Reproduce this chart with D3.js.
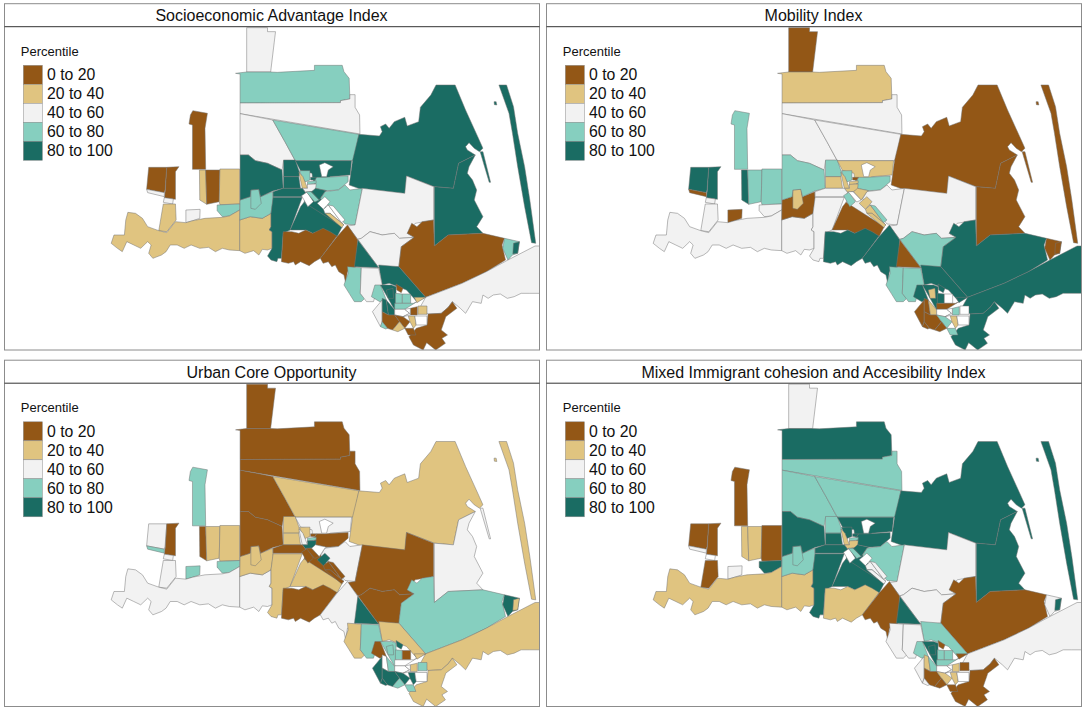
<!DOCTYPE html>
<html>
<head>
<meta charset="utf-8">
<script src="https://cdn.jsdelivr.net/npm/d3@7"></script>
<style>
  body { margin: 0; background: #fff; }
  text { font-family: "Liberation Sans", Arial, sans-serif; fill: #111; }
</style>
</head>
<body>
<svg id="chart" width="1084" height="711"></svg>
<script>
// Legend classes
const classLabels = ["0 to 20", "20 to 40", "40 to 60", "60 to 80", "80 to 100"];
const classColors = ["#935716", "#e0c480", "#f2f2f2", "#86cfbf", "#1a6c63"];

const panelTitles = [
    "Socioeconomic Advantage Index",
    "Mobility Index",
    "Urban Core Opportunity",
    "Mixed Immigrant cohesion and Accesibility Index"
];

// Tract outlines, [easting, southing] in map units.
const tractOutlines = [
    [[710,83],[770,83],[770,95],[793,95],[779,216],[710,216]],
    [[678,220],[710,216],[779,216],[798,217],[905,211],[905,196],[985,196],[990,215],[1005,235],[1007,297],[980,302],[980,308],[691,309],[691,222]],
    [[691,309],[980,308],[980,302],[1007,297],[1007,284],[1022,284],[1022,322],[1035,345],[1036,402],[691,341]],
    [[691,341],[785,360],[820,425],[850,483],[816,483],[812,510],[770,490],[735,482],[715,465],[691,465]],
    [[785,360],[1033,403],[1020,480],[1012,482],[850,482],[820,425]],
    [[1033,403],[1092,408],[1100,395],[1095,380],[1110,372],[1120,385],[1135,365],[1165,352],[1172,378],[1205,365],[1210,322],[1240,285],[1255,255],[1310,255],[1340,330],[1375,410],[1390,445],[1380,455],[1365,445],[1350,428],[1340,440],[1345,450],[1368,465],[1320,490],[1305,565],[1250,560],[1170,528],[1167,582],[1045,570],[1005,555],[1015,480]],
    [[1368,465],[1350,500],[1345,520],[1360,540],[1372,570],[1365,600],[1390,650],[1372,680],[1390,700],[1290,705],[1250,738],[1250,560],[1305,565],[1320,490]],
    [[1436,255],[1458,255],[1478,320],[1490,400],[1510,500],[1525,600],[1542,730],[1530,728],[1510,620],[1490,500],[1475,400],[1465,340]],
    [[1422,305],[1428,305],[1430,315],[1423,314]],
    [[1382,455],[1390,455],[1412,547],[1408,547]],
    [[548,345],[555,332],[597,340],[590,385],[592,508],[554,508],[554,375],[544,372]],
    [[428,502],[480,502],[475,570],[473,578],[422,568]],
    [[480,502],[515,500],[505,515],[505,598],[473,593],[476,570]],
    [[422,568],[473,578],[473,590],[425,578]],
    [[473,593],[499,597],[497,612],[470,607]],
    [[470,612],[505,612],[507,660],[480,695],[457,692]],
    [[574,510],[592,510],[595,613],[575,600]],
    [[592,510],[633,510],[631,605],[595,613]],
    [[633,507],[690,507],[690,612],[633,614],[631,605]],
    [[625,615],[690,612],[690,630],[660,648],[640,650],[625,632]],
    [[535,630],[576,628],[575,655],[555,662],[535,668]],
    [[368,637],[390,640],[410,655],[425,680],[457,692],[480,698],[505,665],[535,668],[555,662],[590,655],[640,652],[660,648],[690,630],[690,752],[660,750],[640,745],[620,755],[600,742],[575,745],[550,735],[530,745],[510,735],[490,735],[478,755],[465,765],[440,775],[428,760],[435,735],[425,725],[405,745],[385,735],[365,725],[352,755],[338,745],[320,730],[328,705],[358,705],[362,660]],
    [[690,660],[720,650],[755,655],[780,640],[780,680],[775,690],[783,695],[783,745],[770,750],[755,748],[745,765],[730,752],[705,760],[690,752]],
    [[691,600],[720,590],[722,570],[745,568],[750,590],[785,575],[786,600],[780,640],[755,655],[720,650],[690,660]],
    [[722,570],[745,568],[752,610],[735,628],[722,625]],
    [[691,465],[715,465],[735,482],[770,490],[812,510],[815,565],[785,573],[750,590],[745,568],[722,570],[720,590],[691,600]],
    [[816,480],[850,480],[863,520],[860,530],[816,530]],
    [[816,530],[860,530],[865,565],[816,565]],
    [[850,482],[1012,482],[1008,525],[950,530],[918,555],[900,540],[898,520],[865,512]],
    [[911,532],[935,532],[1002,528],[1002,545],[974,570],[940,572],[907,565],[904,545]],
    [[862,512],[892,512],[892,540],[878,546],[868,528]],
    [[860,517],[872,530],[885,565],[870,565]],
    [[885,545],[910,542],[910,550],[885,555]],
    [[870,565],[885,565],[885,553],[910,552],[908,572],[880,578]],
    [[935,575],[974,570],[993,555],[1007,570],[1043,565],[1022,675],[993,672],[955,625],[921,600]],
    [[1043,565],[1165,580],[1170,528],[1248,560],[1248,660],[1195,670],[1172,700],[1192,712],[1150,715],[1135,700],[1100,705],[1065,695],[1040,715],[1030,718],[1000,678],[1022,675]],
    [[1040,715],[1065,695],[1100,705],[1135,700],[1150,715],[1192,712],[1155,740],[1148,800],[1090,803],[1030,718]],
    [[1248,660],[1215,665],[1200,680],[1185,670],[1172,700],[1192,712],[1155,740],[1148,800],[1225,892],[1330,850],[1400,815],[1455,780],[1445,735],[1452,715],[1390,700],[1290,705],[1250,738]],
    [[1452,715],[1495,725],[1490,760],[1475,765],[1462,780],[1447,745]],
    [[1478,730],[1495,725],[1490,760],[1476,762]],
    [[1462,780],[1540,738],[1553,738],[1553,880],[1525,880],[1500,880],[1480,890],[1460,895],[1440,882],[1420,885],[1405,895],[1390,885],[1385,910],[1360,905],[1340,940],[1325,925],[1302,905],[1290,922],[1270,940],[1232,942],[1210,920],[1225,892],[1330,850],[1400,815]],
    [[1232,942],[1270,940],[1290,922],[1302,905],[1315,925],[1283,950],[1280,960],[1270,990],[1288,1005],[1272,1015],[1282,1030],[1254,1050],[1228,1028],[1218,1050],[1190,1035],[1177,1010],[1190,995],[1198,985],[1229,975]],
    [[786,592],[870,592],[835,690],[815,700],[810,775],[800,775],[797,785],[780,780],[770,768],[783,745],[783,695],[775,690],[780,680],[780,640]],
    [[786,575],[815,565],[870,565],[880,578],[873,590],[786,590]],
    [[880,578],[908,572],[925,600],[942,625],[985,682],[875,610]],
    [[875,607],[985,680],[970,710],[930,690],[900,700],[880,690],[835,690],[865,620]],
    [[815,695],[840,695],[860,700],[880,690],[900,700],[930,685],[950,695],[970,708],[922,775],[905,785],[890,797],[865,785],[850,795],[845,785],[830,790],[810,785]],
    [[970,710],[1000,675],[1030,720],[1025,800],[1000,815],[995,850],[990,825],[975,815],[965,795],[955,800],[945,785],[930,790],[922,775]],
    [[1030,720],[1090,803],[1020,800]],
    [[1090,795],[1148,800],[1225,892],[1200,905],[1170,870],[1120,850],[1100,855]],
    [[1000,800],[1040,803],[1037,880],[1050,895],[1040,905],[1020,905],[1005,880],[990,855],[1002,820]],
    [[1040,803],[1090,805],[1100,855],[1085,870],[1075,905],[1055,905],[1037,880]],
    // river corridor
    [[868,587],[884,576],[902,605],[886,620]],
    [[881,575],[895,575],[919,600],[906,606]],
    [[908,565],[940,572],[935,575],[919,600],[897,575]],
    [[913,610],[935,590],[950,605],[931,628]],
    [[931,628],[945,615],[983,668],[990,675],[950,640],[935,640]],
    [[945,615],[959,618],[993,660],[983,668]],
    [[935,640],[950,640],[990,675],[983,682]],
    [[894,532],[911,532],[906,540],[894,540]],
    // southern cluster
    [[1079,855],[1095,855],[1112,900],[1093,905],[1069,890]],
    [[1095,855],[1127,855],[1140,860],[1140,925],[1136,930]],
    [[1112,870],[1131,865],[1133,895],[1117,895]],
    [[1140,852],[1160,865],[1155,878],[1142,870]],
    [[1138,880],[1158,882],[1158,910],[1138,910]],
    [[1158,882],[1182,882],[1182,910],[1158,910]],
    [[1072,935],[1100,900],[1100,965],[1095,980]],
    [[1100,895],[1112,900],[1118,945],[1100,935]],
    [[1112,900],[1136,930],[1136,945],[1118,945]],
    [[1136,910],[1190,910],[1200,905],[1165,928],[1136,928]],
    [[1192,892],[1225,892],[1200,908]],
    [[1203,918],[1229,918],[1229,943],[1203,943]],
    [[1181,925],[1201,920],[1201,945],[1181,945]],
    [[1136,928],[1165,928],[1179,940],[1160,950],[1136,945]],
    [[1100,935],[1118,945],[1136,945],[1150,965],[1130,990],[1115,985],[1100,965]],
    [[1100,965],[1115,985],[1110,987],[1095,980]],
    [[1136,945],[1160,950],[1180,965],[1165,985],[1150,965]],
    [[1130,990],[1150,965],[1165,985],[1145,995]],
    [[1175,948],[1194,948],[1198,975],[1190,985],[1180,965]],
    [[1165,985],[1190,985],[1197,1005],[1175,1005]],
    [[1194,948],[1229,948],[1229,975],[1198,975]],
    [[1165,928],[1181,925],[1181,945],[1160,950],[1179,940]],
    // star-shaped tract with no data
    [[919,495],[935,488],[959,500],[945,510],[940,530],[926,530]]
];

// Percentile class per tract (index into classLabels, null = no data), same order as tractOutlines.
const socioeconomic = [2,3,2,2,3,4,4,4,4,4,0,0,0,2,2,1,1,0,1,3,2,1,1,3,3,4,4,4,4,3,3,1,3,2,3,2,2,0,3,4,2,0,4,4,4,4,0,0,4,4,3,2,
    null,3,4,null,null,null,1,4,
    3,4,4,0,3,3,2,4,4,3,1,1,0,null,0,3,0,1,1,0,null,null,
    null];
const mobility = [0,1,2,2,2,0,0,0,0,0,3,4,4,0,2,2,4,3,3,2,0,2,2,0,1,3,3,1,1,3,3,1,1,1,2,2,3,4,0,0,4,4,2,2,2,0,4,4,0,4,3,3,
    3,null,1,1,1,3,1,0,
    4,4,1,4,4,null,0,0,1,0,4,null,3,null,0,0,3,0,1,3,null,null,
    null];
const urbanCore = [0,0,0,0,1,1,2,1,1,2,3,2,0,3,2,2,0,1,1,3,3,2,2,1,1,0,1,1,2,0,1,2,3,4,2,0,0,3,4,1,1,1,1,0,0,1,0,2,4,1,1,3,
    0,0,null,4,0,0,0,0,
    0,3,3,4,3,0,4,null,3,null,1,3,1,null,4,4,4,3,4,3,null,null,
    null];
const mixedImmigrant = [2,4,3,3,3,4,4,4,4,4,0,0,0,2,null,0,1,1,0,4,2,1,1,3,3,4,3,4,4,4,4,1,3,1,3,2,2,0,2,4,2,0,4,4,4,4,1,0,4,3,2,2,
    null,3,4,null,2,2,2,4,
    3,4,4,0,3,3,2,1,3,3,0,0,1,null,0,2,1,0,1,0,null,null,
    null];

const panelValues = [socioeconomic, mobility, urbanCore, mixedImmigrant];

const svg = d3.select("#chart");

// Map units to panel pixels
const x = d3.scaleLinear().domain([0, 1560]).range([0, 542]);
const y = d3.scaleLinear().domain([0, 1060]).range([0, 353.33]);
const outline = d3.line().x(d => x(d[0])).y(d => y(d[1])).curve(d3.curveLinearClosed);

const legendY = d3.scaleBand().domain(classLabels).range([65.3, 160.3]);

const panelX = [0, 542, 0, 542];
const panelY = [0, 0, 356.5, 356.5];

panelTitles.forEach((title, p) => {
    const g = svg.append("g").attr("transform", `translate(${panelX[p]},${panelY[p]})`);

    const clipId = "clip" + p;
    g.append("clipPath").attr("id", clipId).append("rect")
        .attr("x", 4.5).attr("y", 26.7).attr("width", 535).attr("height", 323.3);

    g.append("g").attr("clip-path", `url(#${clipId})`)
        .selectAll("path")
        .data(tractOutlines)
        .enter()
        .append("path")
        .attr("d", outline)
        .attr("fill", (d, i) => panelValues[p][i] === null ? "#fff" : classColors[panelValues[p][i]])
        .attr("stroke", "#747474")
        .attr("stroke-width", 0.5)
        .attr("stroke-linejoin", "round");

    // Frame and title strip
    g.append("rect").attr("x", 4.5).attr("y", 3.7).attr("width", 535).attr("height", 346.3)
        .attr("fill", "none").attr("stroke", "#8c8c8c").attr("stroke-width", 1);
    g.append("line").attr("x1", 4.5).attr("x2", 539.5).attr("y1", 26.7).attr("y2", 26.7)
        .attr("stroke", "#333").attr("stroke-width", 1);
    g.append("text").attr("x", 271.5).attr("y", 21)
        .attr("text-anchor", "middle").attr("font-size", 16).text(title);

    // Legend
    g.append("text").attr("x", 20.8).attr("y", 55.5).attr("font-size", 13).text("Percentile");
    g.selectAll("rect.key")
        .data(classLabels)
        .enter()
        .append("rect")
        .attr("class", "key")
        .attr("x", 23.3)
        .attr("y", d => legendY(d))
        .attr("width", 19.1)
        .attr("height", legendY.bandwidth())
        .attr("fill", (d, i) => classColors[i])
        .attr("stroke", "#8c8c8c")
        .attr("stroke-width", 0.5);
    g.selectAll("text.key")
        .data(classLabels)
        .enter()
        .append("text")
        .attr("class", "key")
        .attr("x", 47)
        .attr("y", d => legendY(d) + legendY.bandwidth() / 2 + 5.5)
        .attr("font-size", 15.8)
        .text(d => d);
});
</script>
</body>
</html>
